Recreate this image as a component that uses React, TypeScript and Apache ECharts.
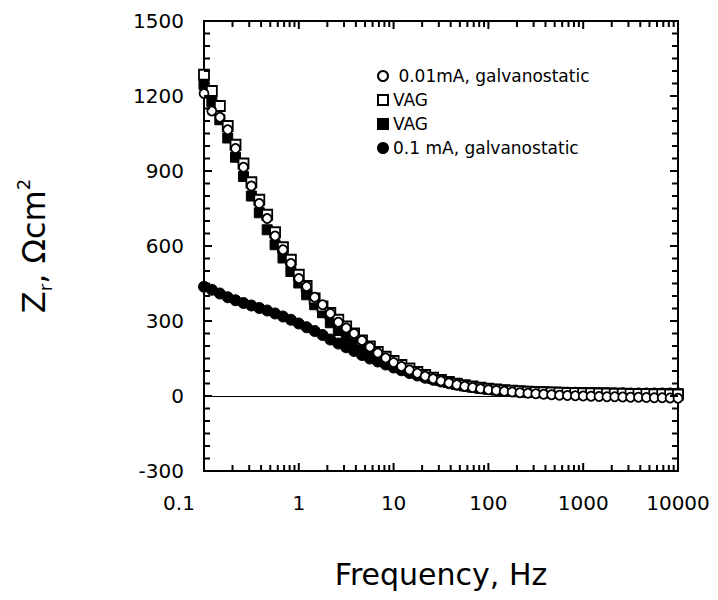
import React, { useEffect, useRef } from "react";
import * as echarts from "echarts";

// Frequencies (Hz), 12 points per decade
const frequencies = [
  0.1, 0.121, 0.147, 0.178, 0.215, 0.261, 0.316, 0.383, 0.464, 0.562, 0.681, 0.825,
  1, 1.21, 1.47, 1.78, 2.15, 2.61, 3.16, 3.83, 4.64, 5.62, 6.81, 8.25,
  10, 12.1, 14.7, 17.8, 21.5, 26.1, 31.6, 38.3, 46.4, 56.2, 68.1, 82.5,
  100, 121, 147, 178, 215, 261, 316, 383, 464, 562, 681, 825,
  1000, 1210, 1470, 1780, 2150, 2610, 3160, 3830, 4640, 5620, 6810, 8250,
  10000,
];

// 0.01 mA, galvanostatic (open circles)
const openCircle = [
  1210, 1140, 1115, 1065, 990, 915, 840, 770, 710, 640, 585, 530,
  470, 438, 395, 365, 330, 295, 272, 250, 222, 196, 172, 152,
  134, 118, 104, 91, 79, 69, 60, 52, 45, 39, 34, 29,
  25, 22, 19, 16, 13, 11, 9, 7, 5, 3, 2, 1,
  0, -1, -2, -3, -3, -4, -5, -5, -6, -7, -7, -8,
  -9,
];

// VAG (open squares)
const openSquare = [
  1285, 1220, 1160, 1080, 1005, 930, 855, 785, 725, 655, 595, 545,
  485, 440, 390, 358, 332, 305, 278, 250, 222, 198, 176, 157,
  140, 124, 110, 96, 84, 73, 64, 56, 49, 43, 38, 33,
  29, 26, 23, 21, 19, 17, 16, 15, 14, 13, 12, 12,
  11, 11, 10, 10, 9, 9, 8, 8, 8, 7, 7, 6,
  6,
];

// VAG (filled squares)
const filledSquare = [
  1245, 1177, 1105, 1032, 955, 878, 800, 733, 665, 605, 552, 498,
  452, 405, 365, 333, 293, 262, 236, 213, 192, 172, 155, 140,
  126, 113, 101, 90, 80, 70, 62, 54, 47, 41, 36, 32,
  28, 25, 22, 20, 18, 17, 16, 15, 14, 13, 13, 12,
  12, 11, 11, 11, 10, 10, 10, 10, 9, 9, 9, 9,
  9,
];

// 0.1 mA, galvanostatic (filled circles)
const filledCircle = [
  437, 425, 410, 395, 383, 372, 362, 352, 342, 330, 318, 305,
  290, 275, 260, 244, 226, 210, 195, 180, 164, 150, 138, 126,
  114, 103, 92, 82, 73, 65, 58, 51, 45, 40, 36, 32,
  28, 25, 22, 20, 18, 17, 16, 15, 14, 14, 13, 13,
  12, 12, 12, 11, 11, 11, 10, 10, 10, 10, 10, 10,
  10,
];

// Tick positions
const xDecades = [0.1, 1, 10, 100, 1000, 10000];
const xMinor = [
  0.2, 0.3, 0.4, 0.5, 0.6, 0.7, 0.8, 0.9,
  2, 3, 4, 5, 6, 7, 8, 9,
  20, 30, 40, 50, 60, 70, 80, 90,
  200, 300, 400, 500, 600, 700, 800, 900,
  2000, 3000, 4000, 5000, 6000, 7000, 8000, 9000,
];
const yMajor = [-300, 0, 300, 600, 900, 1200, 1500];
const yMinor = [
  -250, -200, -150, -100, -50,
  50, 100, 150, 200, 250,
  350, 400, 450, 500, 550,
  650, 700, 750, 800, 850,
  950, 1000, 1050, 1100, 1150,
  1250, 1300, 1350, 1400, 1450,
];

const X_MIN = 0.1;
const X_MAX = 10000;
const Y_MIN = -300;
const Y_MAX = 1500;

const seriesNames = {
  openCircle: " 0.01mA, galvanostatic",
  openSquare: "VAG (open)",
  filledSquare: "VAG (filled)",
  filledCircle: "0.1 mA, galvanostatic",
};

const FONT = '"DejaVu Sans", sans-serif';

export default function App() {
  const ref = useRef<HTMLDivElement>(null);

  useEffect(() => {
    const chart = echarts.init(ref.current!, null, { renderer: "svg" });
    const pair = (ys: number[]) => frequencies.map((f, i) => [f, ys[i]]);
    const openStyle = { color: "#fff", borderColor: "#000", borderWidth: 1.8, opacity: 1 };
    const filledStyle = { color: "#000", borderColor: "#000", borderWidth: 1, opacity: 1 };

    chart.setOption({
      animation: false,
      backgroundColor: "#fff",
      grid: {
        left: 204,
        right: 40,
        top: 21,
        bottom: 129,
        containLabel: false,
        show: true,
        borderColor: "#000",
        borderWidth: 2,
        backgroundColor: "transparent",
      },
      legend: {
        orient: "vertical",
        left: 377,
        top: 66,
        padding: 0,
        itemWidth: 10,
        itemHeight: 10,
        itemGap: 4,
        selectedMode: false,
        data: [
          seriesNames.openCircle,
          seriesNames.openSquare,
          seriesNames.filledSquare,
          seriesNames.filledCircle,
        ],
        formatter: (name: string) => (name.startsWith("VAG") ? "VAG" : name),
        textStyle: { fontFamily: FONT, fontSize: 17, color: "#000", lineHeight: 20 },
      },
      xAxis: {
        type: "log",
        logBase: 10,
        min: X_MIN,
        max: X_MAX,
        position: "bottom",
        axisLine: { show: true, onZero: false, lineStyle: { color: "#000", width: 2 } },
        axisTick: { show: false },
        splitLine: { show: false },
        axisLabel: {
          fontFamily: FONT,
          fontSize: 20,
          color: "#000",
          margin: 22,
          formatter: (v: number) => {
            const s = v < 1 ? v.toFixed(1) : String(Math.round(v));
            return Math.abs(v - 0.1) < 1e-9 ? `{s|${s}}` : s;
          },
          rich: {
            s: { fontFamily: FONT, fontSize: 20, color: "#000", padding: [0, 50, 0, 0] },
          },
        },
        name: "Frequency, Hz",
        nameLocation: "middle",
        nameGap: 88,
        nameTextStyle: { fontFamily: FONT, fontSize: 30, color: "#000" },
      },
      yAxis: {
        type: "value",
        min: Y_MIN,
        max: Y_MAX,
        interval: 300,
        position: "left",
        axisLine: { show: true, onZero: false, lineStyle: { color: "#000", width: 2 } },
        axisTick: { show: false },
        splitLine: { show: false },
        axisLabel: {
          fontFamily: FONT,
          fontSize: 20,
          color: "#000",
          margin: 20,
          formatter: (v: number) => String(v),
        },
        name: "{a|Z}{b|r}{a|, Ωcm}{c|2}",
        nameLocation: "middle",
        nameGap: 150,
        nameTextStyle: {
          fontFamily: FONT,
          fontSize: 32,
          color: "#000",
          rich: {
            a: { fontFamily: FONT, fontSize: 32, color: "#000", lineHeight: 40, verticalAlign: "middle" },
            b: { fontFamily: FONT, fontSize: 18, color: "#000", verticalAlign: "bottom" },
            c: { fontFamily: FONT, fontSize: 18, color: "#000", verticalAlign: "top" },
          },
        },
      },
      series: [
        {
          name: seriesNames.filledCircle,
          type: "scatter",
          symbol: "circle",
          symbolSize: 11,
          itemStyle: filledStyle,
          data: pair(filledCircle),
          z: 2,
          markLine: {
            silent: true,
            symbol: ["none", "none"],
            label: { show: false },
            lineStyle: { color: "#000", width: 1.2, type: "solid", opacity: 1 },
            data: [{ yAxis: 0 }],
          },
        },
        {
          name: seriesNames.filledSquare,
          type: "scatter",
          symbol: "rect",
          symbolSize: 10,
          itemStyle: filledStyle,
          data: pair(filledSquare),
          z: 3,
        },
        {
          name: seriesNames.openSquare,
          type: "scatter",
          symbol: "rect",
          symbolSize: 10,
          itemStyle: openStyle,
          data: pair(openSquare),
          z: 4,
        },
        {
          name: seriesNames.openCircle,
          type: "scatter",
          symbol: "circle",
          symbolSize: 9,
          itemStyle: openStyle,
          data: pair(openCircle),
          z: 5,
        },
      ],
    });

    // Inward ticks on all four sides, positioned through the axes' scales
    const MAJ = 8;
    const MIN = 6;
    const lines: any[] = [];
    const add = (x: number, y: number, dx: number, dy: number) => {
      const p = chart.convertToPixel({ xAxisIndex: 0, yAxisIndex: 0 }, [x, y]) as number[];
      if (!p || !isFinite(p[0]) || !isFinite(p[1])) return;
      lines.push({
        type: "line",
        silent: true,
        z: 100,
        shape: { x1: p[0], y1: p[1], x2: p[0] + dx, y2: p[1] + dy },
        style: { stroke: "#000", lineWidth: 2 },
      });
    };
    xDecades.forEach((f) => {
      add(f, Y_MIN, 0, -MAJ);
      add(f, Y_MAX, 0, MAJ);
    });
    xMinor.forEach((f) => {
      add(f, Y_MIN, 0, -MIN);
      add(f, Y_MAX, 0, MIN);
    });
    yMajor.forEach((v) => {
      add(X_MIN, v, MAJ, 0);
      add(X_MAX, v, -MAJ, 0);
    });
    yMinor.forEach((v) => {
      add(X_MIN, v, MIN, 0);
      add(X_MAX, v, -MIN, 0);
    });
    chart.setOption({ graphic: { elements: lines } });

    return () => chart.dispose();
  }, []);

  return (
    <div
      ref={ref}
      style={{ position: "fixed", left: 0, top: 0, width: 718, height: 600, background: "#fff" }}
    />
  );
}
